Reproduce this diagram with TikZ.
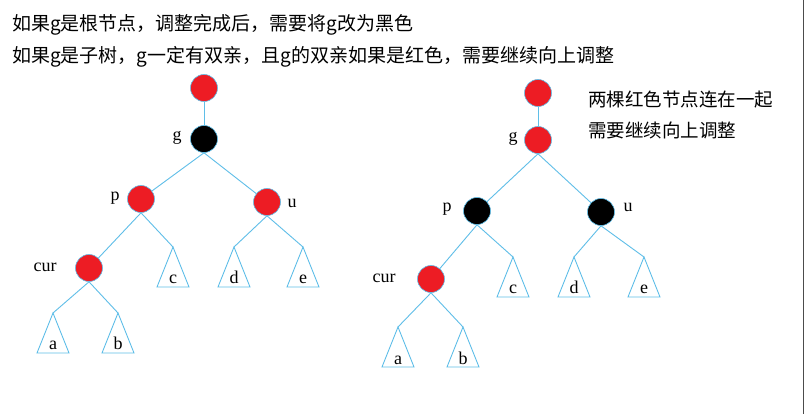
\documentclass[tikz,border=0pt]{standalone}
\usepackage{fontspec}
\setmainfont{Liberation Serif}
\newfontfamily\cjk{Noto Sans CJK SC}
\definecolor{nodered}{RGB}{237,28,36}
\definecolor{edgeblue}{RGB}{95,190,232}
\tikzset{
  rb/.style={circle, minimum size=27pt, inner sep=0pt, draw=edgeblue, line width=0.6pt},
  rednode/.style={rb, fill=nodered},
  blacknode/.style={rb, fill=black},
  edge/.style={draw=edgeblue, line width=0.9pt},
  tri/.style={draw=edgeblue, line width=0.9pt},
  lbl/.style={font=\fontsize{18}{20}\selectfont, inner sep=0pt, anchor=base},
  note/.style={font=\cjk\fontsize{19}{22}\selectfont, inner sep=0pt, anchor=base west},
  subtree/.pic={
    \coordinate (-apex) at (0,0);
    \draw[tri] (-apex) -- (-16,40) -- (16,40) -- cycle;
    \node[lbl] (-key) at (0,37) {#1};
  }
}
\begin{document}
\begin{tikzpicture}[x=1pt,y=-1pt]
\useasboundingbox (0,0) rectangle (804,414);
\fill[white] (0,0) rectangle (804,414);
\draw[gray!60!black, line width=1pt] (803.5,0) -- (803.5,414);

% heading lines
\node[note] (line1) at (12,31) {如果g是根节点，调整完成后，需要将g改为黑色};
\node[note] (line2) at (12,63) {如果g是子树，g一定有双亲，且g的双亲如果是红色，需要继续向上调整};

% ---- left tree: after recolouring, g is the root ----
\node[rednode]   (Lroot) at (204,88) {};
\node[blacknode] (Lg)    at (204,139) {};
\node[rednode]   (Lp)    at (141,199) {};
\node[rednode]   (Lu)    at (267,202) {};
\node[rednode]   (Lcur)  at (89,268) {};
\pic (Lc) at (173,247) {subtree=c};
\pic (Ld) at (234,247) {subtree=d};
\pic (Le) at (303,247) {subtree=e};
\pic (La) at (53,313)  {subtree=a};
\pic (Lb) at (118,313) {subtree=b};

\node[lbl] (Lglbl)   at (177,141) {g};
\node[lbl] (Lplbl)   at (115,201) {p};
\node[lbl] (Lulbl)   at (292,208) {u};
\node[lbl] (Lcurlbl) at (45,272)  {cur};

\draw[edge] (Lroot) -- (Lg);
\draw[edge] (Lg.south) -- (Lp);
\draw[edge] (Lg.south) -- (Lu);
\draw[edge] (Lp.south) -- (Lcur);
\draw[edge] (Lp.south) -- (Lc-apex);
\draw[edge] (Lu.south) -- (Ld-apex);
\draw[edge] (Lu.south) -- (Le-apex);
\draw[edge] (Lcur.south) -- (La-apex);
\draw[edge] (Lcur.south) -- (Lb-apex);

% ---- right tree: g is a subtree with a red parent ----
\node[rednode]   (Rroot) at (538,93) {};
\node[rednode]   (Rg)    at (538,140) {};
\node[blacknode] (Rp)    at (477,211) {};
\node[blacknode] (Ru)    at (601,212) {};
\node[rednode]   (Rcur)  at (431,279) {};
\pic (Rc) at (513,257) {subtree=c};
\pic (Rd) at (574,257) {subtree=d};
\pic (Re) at (644,257) {subtree=e};
\pic (Ra) at (398,327) {subtree=a};
\pic (Rb) at (463,327) {subtree=b};

\node[lbl] (Rglbl)   at (513,142) {g};
\node[lbl] (Rplbl)   at (447,212) {p};
\node[lbl] (Rulbl)   at (628,212) {u};
\node[lbl] (Rcurlbl) at (384,283) {cur};

\draw[edge] (Rroot) -- (Rg);
\draw[edge] (Rg.south) -- (Rp);
\draw[edge] (Rg.south) -- (Ru);
\draw[edge] (Rp.south) -- (Rcur);
\draw[edge] (Rp.south) -- (Rc-apex);
\draw[edge] (Ru.south) -- (Rd-apex);
\draw[edge] (Ru.south) -- (Re-apex);
\draw[edge] (Rcur.south) -- (Ra-apex);
\draw[edge] (Rcur.south) -- (Rb-apex);

\node[note, font=\cjk\fontsize{18.5}{22}\selectfont] (rnote1) at (588,107) {两棵红色节点连在一起};
\node[note, font=\cjk\fontsize{18.5}{22}\selectfont] (rnote2) at (588,138) {需要继续向上调整};
\end{tikzpicture}
\end{document}
